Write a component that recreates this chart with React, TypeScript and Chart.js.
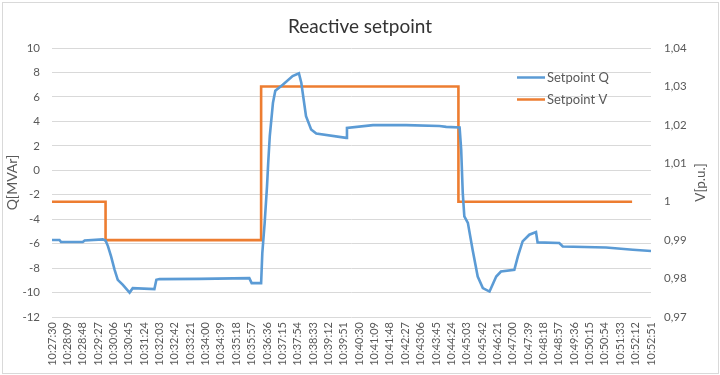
import React, { useEffect, useRef } from "react";
import { Chart, registerables } from "chart.js";

Chart.register(...registerables);

// ---- Data ----
const timeLabels = [
  "10:27:30", "10:28:09", "10:28:48", "10:29:27", "10:30:06", "10:30:45", "10:31:24", "10:32:03",
  "10:32:42", "10:33:21", "10:34:00", "10:34:39", "10:35:18", "10:35:57", "10:36:36", "10:37:15",
  "10:37:54", "10:38:33", "10:39:12", "10:39:51", "10:40:30", "10:41:09", "10:41:48", "10:42:27",
  "10:43:06", "10:43:45", "10:44:24", "10:45:03", "10:45:42", "10:46:21", "10:47:00", "10:47:39",
  "10:48:18", "10:48:57", "10:49:36", "10:50:15", "10:50:54", "10:51:33", "10:52:12", "10:52:51",
];

// Setpoint Q: seconds after 10:27:30, value in MVAr
const qSeconds = [
  0, 19, 23, 78, 83, 129, 136, 142, 150, 159, 167, 180, 197, 205, 260, 265, 273, 375, 501, 507,
  531, 534, 540, 546, 549, 553, 561, 567, 586, 611, 627, 633, 645, 658, 671, 747, 749, 815, 899,
  984, 1001, 1035, 1039, 1043, 1047, 1056, 1068, 1081, 1094, 1111, 1128, 1140, 1174, 1183, 1195,
  1212, 1229, 1233, 1288, 1297, 1407, 1475, 1521,
];
const qValues = [
  -5.7, -5.7, -5.87, -5.87, -5.74, -5.65, -5.74, -6.2, -7.05, -8.14, -8.96, -9.37, -10.0, -9.64,
  -9.72, -8.96, -8.9, -8.88, -8.82, -9.23, -9.23, -6.8, -4.3, -1.3, 0.6, 2.8, 5.5, 6.5, 7.0, 7.7,
  7.93, 7.16, 4.43, 3.34, 3.0, 2.65, 3.47, 3.69, 3.69, 3.62, 3.55, 3.5, 1.7, -1.85, -3.77, -4.3,
  -6.5, -8.69, -9.64, -9.92, -8.69, -8.28, -8.14, -7.05, -5.82, -5.27, -5.05, -5.9, -5.95, -6.23,
  -6.31, -6.5, -6.6,
];

// Setpoint V: seconds after 10:27:30, value in p.u. (stepped)
const vSeconds = [0, 136, 531, 1032, 1473];
const vValues = [1.0, 0.99, 1.03, 1.0, 1.0];

const qAxis = { min: -12, max: 10, step: 2 };
const vAxis = { min: 0.97, max: 1.04, step: 0.01 };

// ---- Helpers ----
const toSec = (s: string) => {
  const [h, m, sec] = s.split(":").map(Number);
  return h * 3600 + m * 60 + sec;
};
const tickSeconds = timeLabels.map((l) => toSec(l) - toSec(timeLabels[0]));

const FONT = "Lato, 'Open Sans', sans-serif";
const TEXT = "#595959";
const GRID = "#D9D9D9";
const BLUE = "#5B9BD5";
const ORANGE = "#ED7D31";

const decorPlugin = {
  id: "decor",
  beforeDraw(chart: any) {
    const { ctx, width, height } = chart;
    ctx.save();
    ctx.fillStyle = "#ffffff";
    ctx.fillRect(0, 0, width, height);
    ctx.strokeStyle = "#D9D9D9";
    ctx.lineWidth = 1;
    ctx.strokeRect(2.5, 2.5, width - 4, height - 4);
    ctx.restore();
  },
  afterDraw(chart: any) {
    const { ctx, chartArea } = chart;
    ctx.save();
    // legend
    const rows = [77.5, 99.5];
    chart.data.datasets.forEach((ds: any, i: number) => {
      const y = rows[i];
      ctx.strokeStyle = ds.borderColor;
      ctx.lineWidth = 2.5;
      ctx.beginPath();
      ctx.moveTo(517, y);
      ctx.lineTo(545, y);
      ctx.stroke();
      ctx.fillStyle = TEXT;
      ctx.font = `13px ${FONT}`;
      ctx.textAlign = "left";
      ctx.textBaseline = "middle";
      ctx.fillText(ds.label, 547, y);
    });
    // right axis title (reads bottom to top)
    ctx.translate(701, (chartArea.top + chartArea.bottom) / 2);
    ctx.rotate(-Math.PI / 2);
    ctx.fillStyle = TEXT;
    ctx.font = `13.5px ${FONT}`;
    ctx.textAlign = "center";
    ctx.textBaseline = "middle";
    ctx.fillText("V[p.u.]", 0, 0);
    ctx.restore();
  },
};

export default function App() {
  const ref = useRef<HTMLCanvasElement | null>(null);

  useEffect(() => {
    if (!ref.current) return;
    const chart = new Chart(ref.current, {
      type: "line",
      data: {
        datasets: [
          {
            label: "Setpoint Q",
            data: qSeconds.map((x, i) => ({ x, y: qValues[i] })),
            borderColor: BLUE,
            backgroundColor: BLUE,
            borderWidth: 2.6,
            pointRadius: 0,
            tension: 0,
            yAxisID: "y",
          },
          {
            label: "Setpoint V",
            data: vSeconds.map((x, i) => ({ x, y: vValues[i] })),
            borderColor: ORANGE,
            backgroundColor: ORANGE,
            borderWidth: 2.6,
            pointRadius: 0,
            stepped: true,
            yAxisID: "y1",
          },
        ],
      },
      options: {
        animation: false,
        responsive: true,
        maintainAspectRatio: false,
        layout: { padding: 0 },
        plugins: {
          legend: { display: false },
          tooltip: { enabled: false },
          title: {
            display: true,
            text: "Reactive setpoint",
            color: "#333333",
            font: { family: FONT, size: 19, weight: "normal", lineHeight: 1.2 },
            padding: { top: 15.6, bottom: 9.6 },
          },
        },
        scales: {
          x: {
            type: "linear",
            min: tickSeconds[0],
            max: tickSeconds[tickSeconds.length - 1],
            grid: { display: false, drawTicks: false },
            border: { display: false },
            afterBuildTicks: (s: any) => {
              s.ticks = tickSeconds.map((v) => ({ value: v }));
            },
            ticks: {
              autoSkip: false,
              maxRotation: 90,
              minRotation: 90,
              padding: 5,
              color: TEXT,
              font: { family: FONT, size: 11 },
              callback: (v: any) => {
                const idx = tickSeconds.indexOf(Number(v));
                return idx >= 0 ? timeLabels[idx] : "";
              },
            },
            afterFit: (s: any) => {
              s.height = 58;
            },
          },
          y: {
            position: "left",
            min: qAxis.min,
            max: qAxis.max,
            ticks: {
              stepSize: qAxis.step,
              padding: 12,
              color: TEXT,
              font: { family: FONT, size: 11.5 },
            },
            grid: { color: GRID, drawTicks: false, lineWidth: 1 },
            border: { display: false },
            title: {
              display: true,
              text: "Q[MVAr]",
              color: TEXT,
              font: { family: FONT, size: 14 },
              padding: { top: 4, bottom: 0 },
            },
            afterFit: (s: any) => {
              s.width = 52;
            },
          },
          y1: {
            position: "right",
            min: vAxis.min,
            max: vAxis.max,
            ticks: {
              stepSize: vAxis.step,
              padding: 13,
              color: TEXT,
              font: { family: FONT, size: 11.5 },
              callback: (v: any) => String(Math.round(Number(v) * 100) / 100).replace(".", ","),
            },
            grid: { display: false, drawTicks: false },
            border: { display: false },
            afterFit: (s: any) => {
              s.width = 69;
            },
          },
        },
      },
      plugins: [decorPlugin],
    } as any);
    return () => chart.destroy();
  }, []);

  return (
    <div style={{ position: "fixed", left: 0, top: 0, width: 720, height: 375, background: "#fff" }}>
      <canvas ref={ref} />
    </div>
  );
}
